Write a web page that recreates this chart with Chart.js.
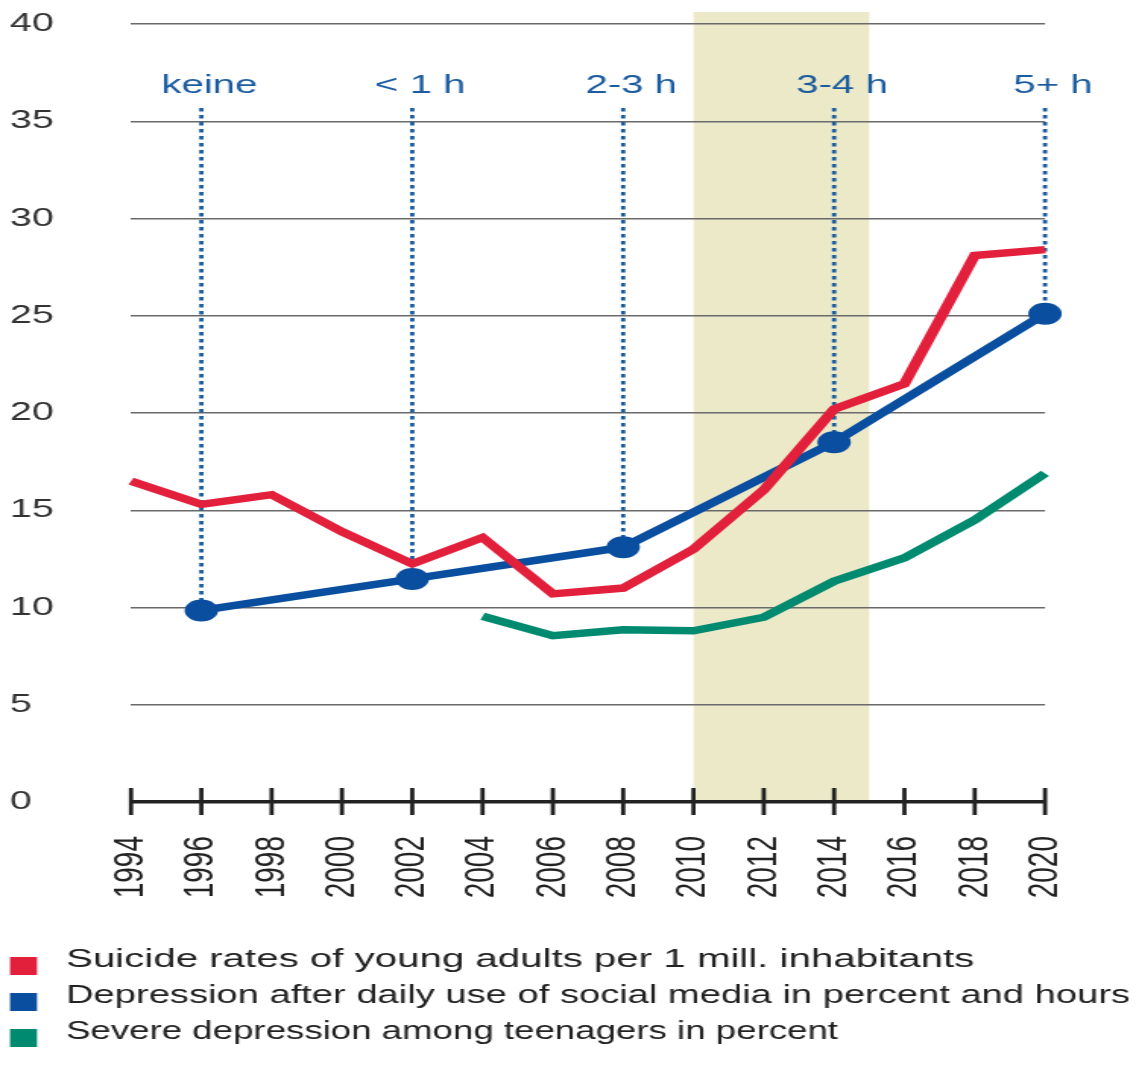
<!DOCTYPE html>
<html>
<head>
<meta charset="utf-8">
<script src="https://cdn.jsdelivr.net/npm/chart.js@4/dist/chart.umd.min.js"></script>
<style>
  html, body { margin: 0; padding: 0; background: #ffffff; }
  #c { display: block; width: 1139px; height: 1065px; }
</style>
</head>
<body>
<canvas id="c" width="750" height="1065" style="width:1139px;height:1065px;"></canvas>
<script>
// ---------- data ----------
const years = ['1994','1996','1998','2000','2002','2004','2006','2008','2010','2012','2014','2016','2018','2020'];
const suicideRates = [16.5, 15.3, 15.8, 13.9, 12.25, 13.6, 10.7, 11.0, 13.0, 16.05, 20.2, 21.5, 28.1, 28.4];
const depressionSocial = [null, 9.85, null, null, 11.47, null, null, 13.1, null, null, 18.5, null, null, 25.1];
const severeDepression = [null, null, null, null, null, 9.55, 8.55, 8.85, 8.8, 9.5, 11.35, 12.55, 14.5, 16.9];
const hourLabels = ['keine', '< 1 h', '2-3 h', '3-4 h', '5+ h'];
const seriesNames = [
  'Suicide rates of young adults per 1 mill. inhabitants',
  'Depression after daily use of social media in percent and hours',
  'Severe depression among teenagers in percent'
];
const bandFromYear = 2010;
const bandToYear = 2015;

// ---------- style ----------
const RED = '#E2203C';
const BLUE = '#0A4EA0';
const GREEN = '#008A70';
const LABEL_BLUE = '#1B5C9F';
const BAND = '#ECE9C9';
const FONT = "'Liberation Sans', Arial, Helvetica, sans-serif";
const SX = 1139 / 750;            // horizontal stretch of the picture
const ix = v => v / SX;           // css x -> canvas x
const legendTextWidths = [909, 1064, 772];   // css px, as set in the picture

function yearToIndex(yr) {
  const y0 = Number(years[0]), step = Number(years[1]) - Number(years[0]);
  return (yr - y0) / step;
}

const bandPlugin = {
  id: 'band',
  beforeDraw(chart) {
    const {ctx, chartArea: a, scales: {x}} = chart;
    const x0 = x.getPixelForValue(yearToIndex(bandFromYear));
    const x1 = x.getPixelForValue(yearToIndex(bandToYear));
    ctx.save();
    ctx.fillStyle = BAND;
    ctx.fillRect(x0, a.top - 12, x1 - x0, a.bottom - a.top + 12);
    ctx.restore();
  }
};

const hoursPlugin = {
  id: 'hours',
  beforeDatasetsDraw(chart) {
    const {ctx, chartArea: a, scales: {x, y}} = chart;
    ctx.save();
    ctx.strokeStyle = LABEL_BLUE;
    ctx.lineWidth = 2.8;
    ctx.setLineDash([3.5, 3.5]);
    depressionSocial.forEach((v, i) => {
      if (v === null) return;
      const px = x.getPixelForValue(i);
      const py = y.getPixelForValue(v);
      ctx.beginPath();
      ctx.moveTo(px, a.top + 84);
      ctx.lineTo(px, py - 8);
      ctx.stroke();
    });
    ctx.restore();
  },
  afterDatasetsDraw(chart) {
    const {ctx, chartArea: a, scales: {x}} = chart;
    ctx.save();
    ctx.fillStyle = LABEL_BLUE;
    ctx.font = '26.5px ' + FONT;
    ctx.textAlign = 'center';
    ctx.textBaseline = 'alphabetic';
    let k = 0;
    depressionSocial.forEach((v, i) => {
      if (v === null) return;
      const px = x.getPixelForValue(i);
      ctx.fillText(hourLabels[k++], px + ix(8), a.top + 69);
    });
    ctx.restore();
  }
};

const axisTicksPlugin = {
  id: 'axisTicks',
  afterDatasetsDraw(chart) {
    const {ctx, chartArea: a, scales: {x}} = chart;
    ctx.save();
    ctx.strokeStyle = '#222222';
    ctx.lineWidth = 2.8;
    x.ticks.forEach((t, i) => {
      const px = x.getPixelForTick(i);
      ctx.beginPath();
      ctx.moveTo(px, a.bottom - 14);
      ctx.lineTo(px, a.bottom + 13);
      ctx.stroke();
    });
    ctx.restore();
  }
};

const legendPlugin = {
  id: 'customLegend',
  afterDraw(chart) {
    const {ctx, chartArea: a} = chart;
    ctx.save();
    ctx.font = '26.5px ' + FONT;
    ctx.textAlign = 'left';
    ctx.textBaseline = 'alphabetic';
    chart.data.datasets.forEach((ds, i) => {
      const cy = a.bottom + 164 + 36 * i;
      ctx.fillStyle = ds.borderColor;
      ctx.fillRect(ix(10), cy - 9, ix(27), 18);
      ctx.fillStyle = '#222222';
      ctx.fillText(ds.label, ix(66), cy + 1, ix(legendTextWidths[i]));
    });
    ctx.restore();
  }
};

new Chart(document.getElementById('c'), {
  type: 'line',
  data: {
    labels: years,
    datasets: [
      { label: seriesNames[0], data: suicideRates, borderColor: RED, backgroundColor: RED,
        borderWidth: 7.5, pointRadius: 0, tension: 0, fill: false },
      { label: seriesNames[1], data: depressionSocial, borderColor: BLUE, backgroundColor: BLUE,
        borderWidth: 7.5, pointRadius: 11, pointBackgroundColor: BLUE, pointBorderWidth: 0,
        spanGaps: true, tension: 0, fill: false },
      { label: seriesNames[2], data: severeDepression, borderColor: GREEN, backgroundColor: GREEN,
        borderWidth: 7.5, pointRadius: 0, tension: 0, fill: false }
    ]
  },
  options: {
    responsive: false,
    devicePixelRatio: 1,
    animation: false,
    events: [],
    layout: { padding: { left: ix(10), right: 750 - ix(1045), top: 24, bottom: 163 } },
    plugins: { legend: { display: false }, tooltip: { enabled: false } },
    scales: {
      x: {
        type: 'category',
        offset: false,
        grid: { display: false, drawTicks: false, tickLength: 0 },
        border: { display: true, color: '#222222', width: 3.5 },
        ticks: {
          autoSkip: false, minRotation: 90, maxRotation: 90, padding: 34,
          color: '#222222', font: { family: FONT, size: 28, lineHeight: 0.57 }
        },
        afterFit(scale) { scale.height = 100; }
      },
      y: {
        min: 0, max: 40,
        grid: {
          drawTicks: false, lineWidth: 1.5,
          color: c => (c.tick && c.tick.value === 0) ? 'rgba(0,0,0,0)' : '#6a6a6a'
        },
        border: { display: false },
        ticks: {
          stepSize: 5, crossAlign: 'far', padding: 0,
          color: '#333333', font: { family: FONT, size: 26 }
        },
        afterFit(scale) { scale.width = ix(131) - ix(10); }
      }
    }
  },
  plugins: [bandPlugin, hoursPlugin, axisTicksPlugin, legendPlugin]
});
</script>
</body>
</html>
